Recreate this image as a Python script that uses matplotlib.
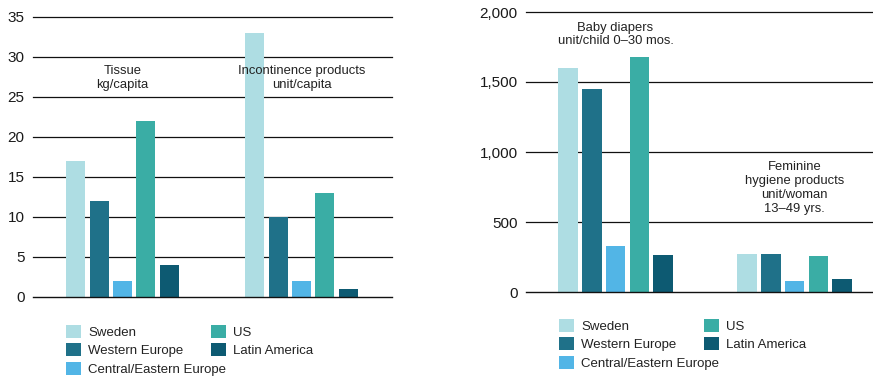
import matplotlib.pyplot as plt
from matplotlib.patches import Patch

plt.rcParams['font.family'] = ['Liberation Sans', 'DejaVu Sans']

regions = ['Sweden', 'Western Europe', 'Central/Eastern Europe', 'US', 'Latin America']
colors = ['#aedde3', '#1f7189', '#52b5e6', '#3aada5', '#0d5a72']

# left panel: per capita
left_groups = ['Tissue\nkg/capita', 'Incontinence products\nunit/capita']
tissue = [17, 12, 2, 22, 4]
incontinence = [33, 10, 2, 13, 1]
left_ticks = [0, 5, 10, 15, 20, 25, 30, 35]

# right panel
right_groups = ['Baby diapers\nunit/child 0\u201330 mos.',
                'Feminine\nhygiene products\nunit/woman\n13\u201349 yrs.']
diapers = [1600, 1450, 330, 1680, 265]
feminine = [270, 270, 80, 260, 90]
right_ticks = [0, 500, 1000, 1500, 2000]

text_color = '#222222'
W, H = 873, 376

fig = plt.figure(figsize=(W / 100, H / 100), dpi=100)


def panel(rect, series, labels, ticks, gap, xlim, label_y, tickfmt):
    ax = fig.add_axes(rect)
    for g, vals in enumerate(series):
        for i, v in enumerate(vals):
            ax.bar(g * gap + i, v, width=0.82, color=colors[i], zorder=3)
        ax.text(g * gap + 2, label_y[g], labels[g], ha='center', va='center',
                fontsize=9.4, color=text_color, linespacing=1.2, zorder=5)
    ax.set_xlim(*xlim)
    ax.set_ylim(ticks[0], ticks[-1])
    ax.set_yticks(ticks)
    ax.set_yticklabels([tickfmt.format(t) for t in ticks])
    ax.set_xticks([])
    for s in ax.spines.values():
        s.set_visible(False)
    ax.tick_params(axis='y', length=0, pad=6, labelsize=11, labelcolor='#1a1a1a')
    # gridlines behind the bars, baseline on top
    for t in ticks[1:]:
        ax.axhline(t, color='#111111', linewidth=0.9, zorder=1, clip_on=False)
    ax.axhline(0, color='#111111', linewidth=1.0, zorder=4, clip_on=False)
    ax.patch.set_alpha(0)
    return ax


panel([33 / W, 1 - 297 / H, 359 / W, 280 / H], [tissue, incontinence],
      left_groups, left_ticks, 7.68, (-1.84, 13.56), [27.4, 27.4], '{:d}')
panel([526 / W, 1 - 292 / H, 347 / W, 280 / H], [diapers, feminine],
      right_groups, right_ticks, 7.54, (-1.77, 12.84), [1839, 743], '{:,d}')

handles = [Patch(facecolor=c, edgecolor='none') for c in colors]


def legend_col(x, y, idx):
    leg = fig.legend([handles[i] for i in idx], [regions[i] for i in idx],
                     loc='upper left', bbox_to_anchor=(x / W, 1 - y / H),
                     bbox_transform=fig.transFigure, frameon=False,
                     fontsize=9.5, handlelength=1.1, handleheight=1.1,
                     handletextpad=0.6, labelspacing=0.35, borderpad=0,
                     borderaxespad=0)
    for t in leg.get_texts():
        t.set_color(text_color)
    return leg


legend_col(66, 325, [0, 1, 2])
legend_col(211, 325, [3, 4])
legend_col(559, 319, [0, 1, 2])
legend_col(704, 319, [3, 4])

fig.savefig('out.png', dpi=100)
